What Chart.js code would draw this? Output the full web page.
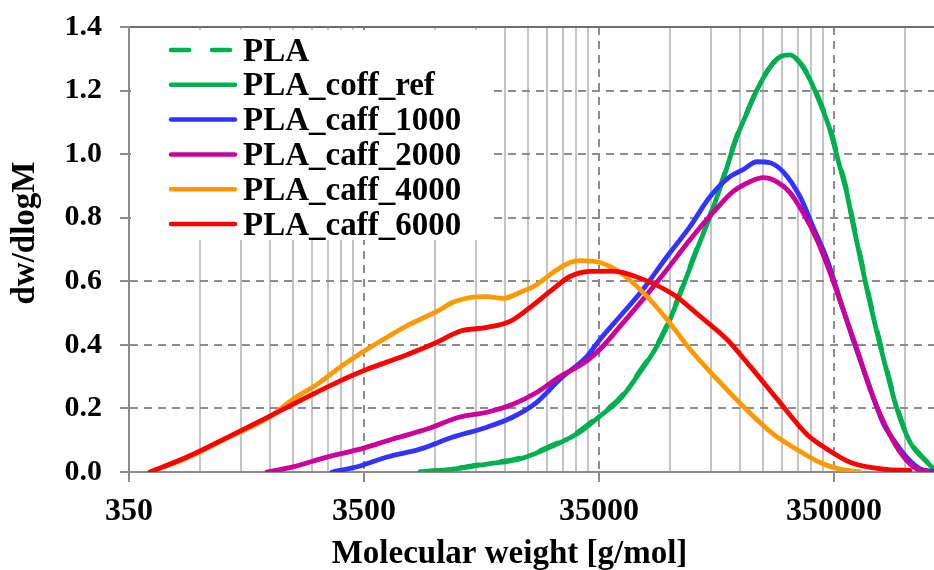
<!DOCTYPE html>
<html>
<head>
<meta charset="utf-8">
<script src="https://cdn.jsdelivr.net/npm/chart.js@4.4.1/dist/chart.umd.min.js"></script>
<style>
html,body{margin:0;padding:0;background:#fff;}
#wrap{width:934px;height:570px;position:relative;}
</style>
</head>
<body>
<div id="wrap"><canvas id="c"></canvas></div>
<script>
// ---------- DATA ----------
const seriesNames = ['PLA', 'PLA_coff_ref', 'PLA_caff_1000', 'PLA_caff_2000', 'PLA_caff_4000', 'PLA_caff_6000'];

const pla_M = [6059, 8369, 11683, 16142, 22302, 29057, 35350, 43015, 52297, 61800, 70190, 79730, 91420, 103850, 117950, 135270, 149210, 164570, 186930, 206220, 227465, 250915, 276750, 305060, 336595, 364000, 397600, 421750, 451500, 483700, 533400, 588350, 648900, 737100, 870450, 932750];
const pla_W = [0.0, 0.010, 0.027, 0.044, 0.085, 0.130, 0.180, 0.233, 0.318, 0.400, 0.484, 0.588, 0.704, 0.808, 0.924, 1.058, 1.132, 1.203, 1.273, 1.304, 1.310, 1.288, 1.238, 1.166, 1.083, 0.988, 0.882, 0.787, 0.684, 0.580, 0.445, 0.320, 0.204, 0.098, 0.033, 0.011];

const coffRef_M = [6059, 8369, 11683, 16142, 22302, 29057, 35350, 43015, 52297, 61800, 70190, 79730, 91420, 103850, 117950, 135270, 149210, 164570, 186930, 206220, 227465, 250915, 276750, 305060, 336595, 364000, 397600, 421750, 451500, 483700, 533400, 588350, 648900, 737100, 870450, 932750];
const coffRef_W = [0.0, 0.009, 0.025, 0.041, 0.082, 0.126, 0.176, 0.229, 0.314, 0.396, 0.480, 0.584, 0.700, 0.804, 0.920, 1.055, 1.130, 1.202, 1.274, 1.306, 1.312, 1.287, 1.234, 1.161, 1.077, 0.982, 0.875, 0.780, 0.678, 0.574, 0.439, 0.314, 0.198, 0.094, 0.031, 0.009];

const caff1000_M = [2558, 3366, 4385, 6059, 8369, 11683, 15068, 19068, 23881, 31108, 35350, 43015, 53865, 68180, 85365, 103850, 126300, 143500, 164570, 186930, 212350, 250915, 284870, 326830, 371175, 421750, 483700, 565600, 636300, 715750, 813050, 923300];
const caff1000_W = [0.0, 0.019, 0.047, 0.072, 0.110, 0.141, 0.173, 0.220, 0.292, 0.364, 0.417, 0.490, 0.574, 0.678, 0.772, 0.866, 0.929, 0.951, 0.976, 0.973, 0.945, 0.866, 0.772, 0.669, 0.543, 0.417, 0.292, 0.155, 0.095, 0.045, 0.010, 0.002];

const caff2000_M = [1353, 1745, 2436, 3366, 4652, 6489, 8967, 11683, 15068, 19068, 23881, 31108, 35350, 43015, 53865, 68180, 85365, 106960, 130095, 153720, 174500, 200235, 227465, 258405, 296250, 336595, 382200, 438550, 498050, 588350, 688450, 789600, 879200];
const caff2000_W = [0.0, 0.016, 0.047, 0.072, 0.104, 0.135, 0.173, 0.188, 0.213, 0.251, 0.300, 0.350, 0.386, 0.458, 0.543, 0.637, 0.731, 0.816, 0.882, 0.913, 0.926, 0.913, 0.879, 0.816, 0.731, 0.628, 0.512, 0.386, 0.261, 0.135, 0.050, 0.009, 0.003];

const caff4000_M = [430, 618, 941, 1393, 1745, 2274, 2687, 3605, 4385, 5493, 7158, 8369, 9891, 11683, 13664, 16142, 19068, 22302, 26345, 29057, 35350, 43015, 53865, 68180, 85365, 111230, 143500, 192535, 250915, 305060, 371175, 451500];
const caff4000_W = [0.0, 0.045, 0.111, 0.174, 0.229, 0.282, 0.323, 0.386, 0.424, 0.465, 0.505, 0.534, 0.549, 0.552, 0.546, 0.565, 0.590, 0.628, 0.659, 0.665, 0.659, 0.628, 0.565, 0.480, 0.386, 0.292, 0.207, 0.120, 0.065, 0.030, 0.009, 0.0];

const caff6000_M = [430, 618, 941, 1393, 1925, 2687, 3605, 5131, 7158, 8967, 11683, 14637, 17805, 21658, 26345, 32043, 40145, 53865, 72275, 94150, 122675, 153720, 200235, 268730, 326830, 409500, 565600, 737100];
const caff6000_W = [0.0, 0.047, 0.113, 0.176, 0.229, 0.282, 0.323, 0.364, 0.408, 0.443, 0.455, 0.474, 0.518, 0.568, 0.615, 0.631, 0.632, 0.606, 0.559, 0.490, 0.417, 0.333, 0.230, 0.118, 0.072, 0.031, 0.009, 0.005];

const xMajorTicks = [350, 3500, 35000, 350000];
const xMinorMultipliers = [2, 3, 4, 5, 6, 7, 8, 9];
const xMin = 350, xMax = 932600;
const yMin = 0, yMax = 1.4, yStep = 0.2;
const xTitle = 'Molecular weight [g/mol]';
const yTitle = 'dw/dlogM';

// ---------- BUILD ----------
const pts = (M, W) => M.map((m, i) => ({x: m, y: W[i]}));
const seriesData = [
  pts(pla_M, pla_W), pts(coffRef_M, coffRef_W), pts(caff1000_M, caff1000_W),
  pts(caff2000_M, caff2000_W), pts(caff4000_M, caff4000_W), pts(caff6000_M, caff6000_W)
];
const colors = ['#00b050', '#00b050', '#3333ff', '#cc0099', '#ff9900', '#ff0000'];
const dashes = [[18, 23], [], [], [], [], []];

const minorTicks = [];
xMajorTicks.forEach(b => xMinorMultipliers.forEach(k => { const v = b * k; if (v <= xMax) minorTicks.push(v); }));

const FONT = "'Liberation Serif', 'Times New Roman', serif";
Chart.defaults.font.family = FONT;
Chart.defaults.font.weight = 'bold';
Chart.defaults.color = '#000';

const datasets = seriesNames.map((name, i) => ({
  label: name,
  data: seriesData[i],
  borderColor: colors[i],
  backgroundColor: colors[i],
  borderWidth: 4.8,
  borderDash: dashes[i],
  borderCapStyle: 'round',
  borderJoinStyle: 'round',
  pointRadius: 0,
  fill: false,
  cubicInterpolationMode: 'monotone',
  order: seriesNames.length - i
}));

const insideLegend = {
  id: 'insideLegend',
  beforeDatasetsDraw(chart) {
    const {ctx, chartArea} = chart;
    ctx.save();
    ctx.fillStyle = '#fff';
    ctx.fillRect(chartArea.left + 2, chartArea.top + 3, 490 - chartArea.left, 240 - chartArea.top - 3);
    ctx.restore();
  },
  afterDatasetsDraw(chart) {
    const {ctx} = chart;
    chart.data.datasets.forEach((ds, i) => {
      const y = 50 + i * 34.8;
      ctx.save();
      ctx.strokeStyle = ds.borderColor;
      ctx.lineWidth = 4.5;
      ctx.lineCap = 'round';
      const dashed = ds.borderDash && ds.borderDash.length;
      ctx.setLineDash(dashed ? [18, 23] : []);
      ctx.beginPath();
      ctx.moveTo(171, y);
      ctx.lineTo(dashed ? 230 : 235, y);
      ctx.stroke();
      ctx.setLineDash([]);
      ctx.fillStyle = '#000';
      ctx.font = "bold 33px " + FONT;
      ctx.textBaseline = 'alphabetic';
      ctx.textAlign = 'left';
      ctx.fillText(ds.label, 243, y + 10.5);
      ctx.restore();
    });
  }
};

const AX = '#8c8c8c';
new Chart(document.getElementById('c'), {
  type: 'line',
  data: {datasets},
  plugins: [insideLegend],
  options: {
    responsive: true,
    maintainAspectRatio: false,
    animation: false,
    devicePixelRatio: 1,
    layout: {padding: {top: 27, right: 0, bottom: 0, left: 0}},
    plugins: {legend: {display: false}, tooltip: {enabled: false}},
    scales: {
      x: {
        type: 'logarithmic', position: 'bottom', min: xMin, max: xMax,
        afterBuildTicks: s => { s.ticks = xMajorTicks.map(v => ({value: v})); },
        afterFit: s => { s.height = 98; s.paddingLeft = 0; s.paddingRight = 0; },
        ticks: {autoSkip: false, maxRotation: 0, padding: 11, color: '#000',
          font: {size: 32, weight: 'bold'}, callback: v => String(v)},
        grid: {color: AX, lineWidth: 2, drawTicks: true, tickLength: 10, tickColor: AX, tickWidth: 2},
        border: {display: true, color: AX, width: 2, dash: [8, 6]},
        title: {display: true, text: xTitle + '\u2003\u2004', color: '#000', font: {size: 33, weight: 'bold'}, padding: {top: 0, bottom: -4}}
      },
      x2: {
        type: 'logarithmic', position: 'top', min: xMin, max: xMax,
        afterBuildTicks: s => { s.ticks = minorTicks.map(v => ({value: v})); },
        afterFit: s => { s.height = 0; s.paddingLeft = 0; s.paddingRight = 0; },
        ticks: {display: false},
        grid: {color: '#c4c4c4', lineWidth: 2, drawTicks: false},
        border: {display: true, color: '#6e6e6e', width: 2}
      },
      y: {
        type: 'linear', position: 'left', min: yMin, max: yMax,
        afterFit: s => { s.width = 129; s.paddingTop = 0; s.paddingBottom = 0; },
        ticks: {stepSize: yStep, padding: 18, color: '#000', font: {size: 30, weight: 'bold'},
          callback: v => Number(v).toFixed(1)},
        grid: {
          color: c => (c.tick && (Math.abs(c.tick.value) < 1e-9 || Math.abs(c.tick.value - yMax) < 1e-9)) ? 'rgba(0,0,0,0)' : AX,
          lineWidth: 2, drawTicks: true, tickLength: 9, tickColor: AX, tickWidth: 2
        },
        border: {display: true, color: AX, width: 2, dash: [8, 6]},
        title: {display: true, text: '\u2003' + yTitle, color: '#000', font: {size: 33, weight: 'bold'}, padding: {top: 6, bottom: 0}}
      }
    }
  }
});
</script>
</body>
</html>
